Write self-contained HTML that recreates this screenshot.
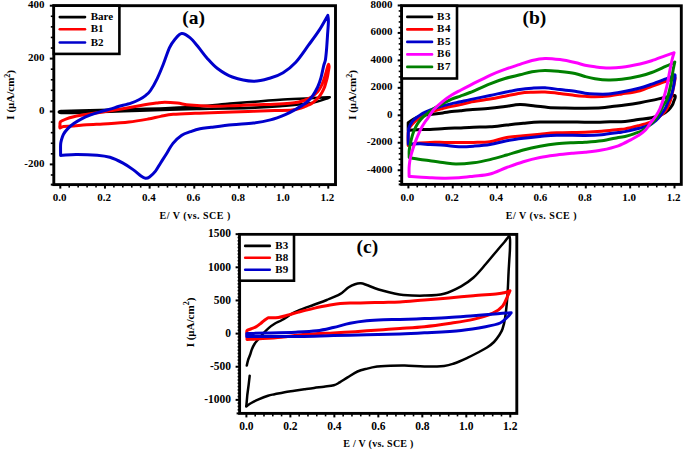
<!DOCTYPE html>
<html><head><meta charset="utf-8"><style>
html,body{margin:0;padding:0;background:#fff;width:685px;height:450px;overflow:hidden}
svg{display:block}
</style></head><body>
<svg width="685" height="450" viewBox="0 0 685 450">
<rect width="685" height="450" fill="#fff"/>
<line x1="50.80" y1="174.98" x2="53.80" y2="174.98" stroke="#000" stroke-width="1.6" stroke-linecap="butt"/>
<line x1="49.80" y1="164.40" x2="53.80" y2="164.40" stroke="#000" stroke-width="2" stroke-linecap="butt"/>
<line x1="50.80" y1="153.82" x2="53.80" y2="153.82" stroke="#000" stroke-width="1.6" stroke-linecap="butt"/>
<line x1="50.80" y1="143.24" x2="53.80" y2="143.24" stroke="#000" stroke-width="1.6" stroke-linecap="butt"/>
<line x1="50.80" y1="132.66" x2="53.80" y2="132.66" stroke="#000" stroke-width="1.6" stroke-linecap="butt"/>
<line x1="50.80" y1="122.08" x2="53.80" y2="122.08" stroke="#000" stroke-width="1.6" stroke-linecap="butt"/>
<line x1="49.80" y1="111.50" x2="53.80" y2="111.50" stroke="#000" stroke-width="2" stroke-linecap="butt"/>
<line x1="50.80" y1="100.92" x2="53.80" y2="100.92" stroke="#000" stroke-width="1.6" stroke-linecap="butt"/>
<line x1="50.80" y1="90.34" x2="53.80" y2="90.34" stroke="#000" stroke-width="1.6" stroke-linecap="butt"/>
<line x1="50.80" y1="79.76" x2="53.80" y2="79.76" stroke="#000" stroke-width="1.6" stroke-linecap="butt"/>
<line x1="50.80" y1="69.18" x2="53.80" y2="69.18" stroke="#000" stroke-width="1.6" stroke-linecap="butt"/>
<line x1="49.80" y1="58.60" x2="53.80" y2="58.60" stroke="#000" stroke-width="2" stroke-linecap="butt"/>
<line x1="50.80" y1="48.02" x2="53.80" y2="48.02" stroke="#000" stroke-width="1.6" stroke-linecap="butt"/>
<line x1="50.80" y1="37.44" x2="53.80" y2="37.44" stroke="#000" stroke-width="1.6" stroke-linecap="butt"/>
<line x1="50.80" y1="26.86" x2="53.80" y2="26.86" stroke="#000" stroke-width="1.6" stroke-linecap="butt"/>
<line x1="50.80" y1="16.28" x2="53.80" y2="16.28" stroke="#000" stroke-width="1.6" stroke-linecap="butt"/>
<line x1="49.80" y1="5.70" x2="53.80" y2="5.70" stroke="#000" stroke-width="2" stroke-linecap="butt"/>
<line x1="50.80" y1="184.60" x2="53.80" y2="184.60" stroke="#000" stroke-width="2" stroke-linecap="butt"/>
<text x="44.50" y="8.10" font-size="11" text-anchor="end" style="font-family:'Liberation Serif',serif;font-weight:bold" >400</text>
<text x="44.50" y="61.00" font-size="11" text-anchor="end" style="font-family:'Liberation Serif',serif;font-weight:bold" >200</text>
<text x="44.50" y="113.90" font-size="11" text-anchor="end" style="font-family:'Liberation Serif',serif;font-weight:bold" >0</text>
<text x="44.50" y="166.80" font-size="11" text-anchor="end" style="font-family:'Liberation Serif',serif;font-weight:bold" >-200</text>
<line x1="60.30" y1="184.60" x2="60.30" y2="188.60" stroke="#000" stroke-width="2" stroke-linecap="butt"/>
<line x1="69.23" y1="184.60" x2="69.23" y2="187.60" stroke="#000" stroke-width="1.6" stroke-linecap="butt"/>
<line x1="78.16" y1="184.60" x2="78.16" y2="187.60" stroke="#000" stroke-width="1.6" stroke-linecap="butt"/>
<line x1="87.10" y1="184.60" x2="87.10" y2="187.60" stroke="#000" stroke-width="1.6" stroke-linecap="butt"/>
<line x1="96.03" y1="184.60" x2="96.03" y2="187.60" stroke="#000" stroke-width="1.6" stroke-linecap="butt"/>
<line x1="104.96" y1="184.60" x2="104.96" y2="188.60" stroke="#000" stroke-width="2" stroke-linecap="butt"/>
<line x1="113.89" y1="184.60" x2="113.89" y2="187.60" stroke="#000" stroke-width="1.6" stroke-linecap="butt"/>
<line x1="122.82" y1="184.60" x2="122.82" y2="187.60" stroke="#000" stroke-width="1.6" stroke-linecap="butt"/>
<line x1="131.76" y1="184.60" x2="131.76" y2="187.60" stroke="#000" stroke-width="1.6" stroke-linecap="butt"/>
<line x1="140.69" y1="184.60" x2="140.69" y2="187.60" stroke="#000" stroke-width="1.6" stroke-linecap="butt"/>
<line x1="149.62" y1="184.60" x2="149.62" y2="188.60" stroke="#000" stroke-width="2" stroke-linecap="butt"/>
<line x1="158.55" y1="184.60" x2="158.55" y2="187.60" stroke="#000" stroke-width="1.6" stroke-linecap="butt"/>
<line x1="167.48" y1="184.60" x2="167.48" y2="187.60" stroke="#000" stroke-width="1.6" stroke-linecap="butt"/>
<line x1="176.42" y1="184.60" x2="176.42" y2="187.60" stroke="#000" stroke-width="1.6" stroke-linecap="butt"/>
<line x1="185.35" y1="184.60" x2="185.35" y2="187.60" stroke="#000" stroke-width="1.6" stroke-linecap="butt"/>
<line x1="194.28" y1="184.60" x2="194.28" y2="188.60" stroke="#000" stroke-width="2" stroke-linecap="butt"/>
<line x1="203.21" y1="184.60" x2="203.21" y2="187.60" stroke="#000" stroke-width="1.6" stroke-linecap="butt"/>
<line x1="212.14" y1="184.60" x2="212.14" y2="187.60" stroke="#000" stroke-width="1.6" stroke-linecap="butt"/>
<line x1="221.08" y1="184.60" x2="221.08" y2="187.60" stroke="#000" stroke-width="1.6" stroke-linecap="butt"/>
<line x1="230.01" y1="184.60" x2="230.01" y2="187.60" stroke="#000" stroke-width="1.6" stroke-linecap="butt"/>
<line x1="238.94" y1="184.60" x2="238.94" y2="188.60" stroke="#000" stroke-width="2" stroke-linecap="butt"/>
<line x1="247.87" y1="184.60" x2="247.87" y2="187.60" stroke="#000" stroke-width="1.6" stroke-linecap="butt"/>
<line x1="256.80" y1="184.60" x2="256.80" y2="187.60" stroke="#000" stroke-width="1.6" stroke-linecap="butt"/>
<line x1="265.74" y1="184.60" x2="265.74" y2="187.60" stroke="#000" stroke-width="1.6" stroke-linecap="butt"/>
<line x1="274.67" y1="184.60" x2="274.67" y2="187.60" stroke="#000" stroke-width="1.6" stroke-linecap="butt"/>
<line x1="283.60" y1="184.60" x2="283.60" y2="188.60" stroke="#000" stroke-width="2" stroke-linecap="butt"/>
<line x1="292.53" y1="184.60" x2="292.53" y2="187.60" stroke="#000" stroke-width="1.6" stroke-linecap="butt"/>
<line x1="301.46" y1="184.60" x2="301.46" y2="187.60" stroke="#000" stroke-width="1.6" stroke-linecap="butt"/>
<line x1="310.40" y1="184.60" x2="310.40" y2="187.60" stroke="#000" stroke-width="1.6" stroke-linecap="butt"/>
<line x1="319.33" y1="184.60" x2="319.33" y2="187.60" stroke="#000" stroke-width="1.6" stroke-linecap="butt"/>
<line x1="328.26" y1="184.60" x2="328.26" y2="188.60" stroke="#000" stroke-width="2" stroke-linecap="butt"/>
<text x="59.50" y="200.80" font-size="11" text-anchor="middle" style="font-family:'Liberation Serif',serif;font-weight:bold" >0.0</text>
<text x="104.16" y="200.80" font-size="11" text-anchor="middle" style="font-family:'Liberation Serif',serif;font-weight:bold" >0.2</text>
<text x="148.82" y="200.80" font-size="11" text-anchor="middle" style="font-family:'Liberation Serif',serif;font-weight:bold" >0.4</text>
<text x="193.48" y="200.80" font-size="11" text-anchor="middle" style="font-family:'Liberation Serif',serif;font-weight:bold" >0.6</text>
<text x="238.14" y="200.80" font-size="11" text-anchor="middle" style="font-family:'Liberation Serif',serif;font-weight:bold" >0.8</text>
<text x="282.80" y="200.80" font-size="11" text-anchor="middle" style="font-family:'Liberation Serif',serif;font-weight:bold" >1.0</text>
<text x="327.46" y="200.80" font-size="11" text-anchor="middle" style="font-family:'Liberation Serif',serif;font-weight:bold" >1.2</text>
<path d="M61.20,111.00 C64.33,110.60 71.87,110.80 80.00,110.60 C88.13,110.40 100.00,110.07 110.00,109.80 C120.00,109.53 130.00,109.30 140.00,109.00 C150.00,108.70 160.00,108.45 170.00,108.00 C180.00,107.55 190.00,107.03 200.00,106.30 C210.00,105.57 220.83,104.37 230.00,103.60 C239.17,102.83 246.67,102.33 255.00,101.70 C263.33,101.07 270.83,100.37 280.00,99.80 C289.17,99.23 302.07,98.72 310.00,98.30 C317.93,97.88 324.67,97.32 327.60,97.30 C330.53,97.28 330.53,97.20 327.60,98.20 C324.67,99.20 317.93,101.98 310.00,103.30 C302.07,104.62 289.17,105.38 280.00,106.10 C270.83,106.82 263.33,107.22 255.00,107.60 C246.67,107.98 239.17,108.18 230.00,108.40 C220.83,108.62 210.00,108.70 200.00,108.90 C190.00,109.10 180.00,109.28 170.00,109.60 C160.00,109.92 150.00,110.47 140.00,110.80 C130.00,111.13 120.00,111.30 110.00,111.60 C100.00,111.90 88.13,112.37 80.00,112.60 C71.87,112.83 64.33,113.27 61.20,113.00 C58.07,112.73 58.07,111.40 61.20,111.00Z" fill="none" stroke="#000" stroke-width="2.6" stroke-linejoin="round" stroke-linecap="round"/>
<path d="M60.60,121.70 C61.68,120.67 64.32,119.63 66.50,118.80 C68.68,117.97 71.30,117.28 73.70,116.70 C76.10,116.12 77.28,115.92 80.90,115.30 C84.52,114.68 90.22,113.78 95.40,113.00 C100.58,112.22 104.67,111.80 112.00,110.60 C119.33,109.40 132.02,107.05 139.40,105.80 C146.78,104.55 152.07,103.70 156.30,103.10 C160.53,102.50 161.28,102.20 164.80,102.20 C168.32,102.20 173.20,102.62 177.40,103.10 C181.60,103.58 184.37,104.58 190.00,105.10 C195.63,105.62 204.15,106.10 211.20,106.20 C218.25,106.30 225.25,105.93 232.30,105.70 C239.35,105.47 246.43,105.05 253.50,104.80 C260.57,104.55 268.62,104.45 274.70,104.20 C280.78,103.95 285.98,103.67 290.00,103.30 C294.02,102.93 296.47,102.47 298.80,102.00 C301.13,101.53 302.32,101.10 304.00,100.50 C305.68,99.90 307.40,99.15 308.90,98.40 C310.40,97.65 311.80,96.85 313.00,96.00 C314.20,95.15 315.10,94.33 316.10,93.30 C317.10,92.27 318.15,91.00 319.00,89.80 C319.85,88.60 320.50,87.48 321.20,86.10 C321.90,84.72 322.60,83.07 323.20,81.50 C323.80,79.93 324.25,78.45 324.80,76.70 C325.35,74.95 326.02,72.70 326.50,71.00 C326.98,69.30 327.35,67.60 327.70,66.50 C328.05,65.40 328.30,65.10 328.60,64.40 C328.77,65.27 329.15,65.73 329.10,67.00 C329.05,68.27 328.62,70.17 328.30,72.00 C327.98,73.83 327.67,76.00 327.20,78.00 C326.73,80.00 326.02,82.30 325.50,84.00 C324.98,85.70 324.72,86.73 324.10,88.20 C323.48,89.67 322.65,91.35 321.80,92.80 C320.95,94.25 320.05,95.63 319.00,96.90 C317.95,98.17 316.70,99.32 315.50,100.40 C314.30,101.48 313.27,102.50 311.80,103.40 C310.33,104.30 308.38,105.08 306.70,105.80 C305.02,106.52 304.15,106.98 301.70,107.70 C299.25,108.42 296.50,109.62 292.00,110.10 C287.50,110.58 281.12,110.40 274.70,110.60 C268.28,110.80 260.57,111.07 253.50,111.30 C246.43,111.53 239.35,111.77 232.30,112.00 C225.25,112.23 217.42,112.50 211.20,112.70 C204.98,112.90 201.33,112.93 195.00,113.20 C188.67,113.47 178.93,113.77 173.20,114.30 C167.47,114.83 164.82,115.60 160.60,116.40 C156.38,117.20 153.18,118.15 147.90,119.10 C142.62,120.05 135.58,121.32 128.90,122.10 C122.22,122.88 114.83,123.35 107.80,123.80 C100.77,124.25 92.38,124.42 86.70,124.80 C81.02,125.18 77.55,125.82 73.70,126.10 C69.85,126.38 65.88,126.18 63.60,126.50 C61.32,126.82 60.60,128.25 60.00,128.00 C59.40,127.75 59.90,126.05 60.00,125.00 C60.10,123.95 59.52,122.73 60.60,121.70Z" fill="none" stroke="#ff0000" stroke-width="3.0" stroke-linejoin="round" stroke-linecap="round"/>
<path d="M60.60,155.40 C60.60,151.93 60.48,147.48 60.60,145.00 C60.72,142.52 60.82,142.30 61.30,140.50 C61.78,138.70 62.42,136.18 63.50,134.20 C64.58,132.22 66.08,130.37 67.80,128.60 C69.52,126.83 71.50,125.22 73.80,123.60 C76.10,121.98 78.90,120.30 81.60,118.90 C84.30,117.50 86.93,116.37 90.00,115.20 C93.07,114.03 96.33,113.00 100.00,111.90 C103.67,110.80 108.95,109.50 112.00,108.60 C115.05,107.70 115.13,107.42 118.30,106.50 C121.47,105.58 127.48,104.27 131.00,103.10 C134.52,101.93 136.93,100.80 139.40,99.50 C141.87,98.20 143.95,96.80 145.80,95.30 C147.65,93.80 148.60,93.28 150.50,90.50 C152.40,87.72 155.07,82.97 157.20,78.60 C159.33,74.23 161.27,69.42 163.30,64.30 C165.33,59.18 167.52,52.00 169.40,47.90 C171.28,43.80 172.55,42.08 174.60,39.70 C176.65,37.32 179.15,33.93 181.70,33.60 C184.25,33.27 187.10,35.42 189.90,37.70 C192.70,39.98 195.67,43.93 198.50,47.30 C201.33,50.67 203.73,54.37 206.90,57.90 C210.07,61.43 213.27,65.32 217.50,68.50 C221.73,71.68 226.30,74.88 232.30,77.00 C238.30,79.12 247.15,81.03 253.50,81.20 C259.85,81.37 265.47,79.42 270.40,78.00 C275.33,76.58 278.87,75.33 283.10,72.70 C287.33,70.07 291.57,66.78 295.80,62.20 C300.03,57.62 304.62,50.50 308.50,45.20 C312.38,39.90 315.88,35.37 319.10,30.40 C322.32,25.43 324.90,20.40 327.80,15.40 C328.00,17.43 328.45,18.13 328.40,21.50 C328.35,24.87 327.82,30.85 327.50,35.60 C327.18,40.35 326.85,45.93 326.50,50.00 C326.15,54.07 325.87,57.38 325.40,60.00 C324.93,62.62 324.43,62.75 323.70,65.70 C322.97,68.65 322.00,74.15 321.00,77.70 C320.00,81.25 319.15,83.90 317.70,87.00 C316.25,90.10 314.30,93.63 312.30,96.30 C310.30,98.97 308.58,100.77 305.70,103.00 C302.82,105.23 298.40,107.77 295.00,109.70 C291.60,111.63 289.40,112.90 285.30,114.60 C281.20,116.30 275.70,118.48 270.40,119.90 C265.10,121.32 259.85,122.28 253.50,123.10 C247.15,123.92 239.35,124.10 232.30,124.80 C225.25,125.50 216.58,126.63 211.20,127.30 C205.82,127.97 203.45,128.07 200.00,128.80 C196.55,129.53 193.53,130.62 190.50,131.70 C187.47,132.78 184.72,133.35 181.80,135.30 C178.88,137.25 175.68,140.12 173.00,143.40 C170.32,146.68 167.77,151.73 165.70,155.00 C163.63,158.27 162.30,160.32 160.60,163.00 C158.90,165.68 157.35,168.77 155.50,171.10 C153.65,173.43 151.17,175.80 149.50,177.00 C147.83,178.20 146.92,178.47 145.50,178.30 C144.08,178.13 143.07,177.45 141.00,176.00 C138.93,174.55 136.17,171.78 133.10,169.60 C130.03,167.42 126.47,164.95 122.60,162.90 C118.73,160.85 114.13,158.58 109.90,157.30 C105.67,156.02 102.83,155.68 97.20,155.20 C91.57,154.72 82.20,154.37 76.10,154.40 C70.00,154.43 65.77,155.07 60.60,155.40Z" fill="none" stroke="#0000cc" stroke-width="3.0" stroke-linejoin="round" stroke-linecap="round"/>
<rect x="53.8" y="5.7" width="281.70" height="178.90" fill="none" stroke="#000" stroke-width="2.9"/>
<rect x="53.8" y="5.7" width="65.60" height="48.20" fill="#fff" stroke="#000" stroke-width="2.6"/>
<line x1="59.80" y1="17.10" x2="85.00" y2="17.10" stroke="#000" stroke-width="2.6" stroke-linecap="round"/>
<text x="90.70" y="20.10" font-size="11" text-anchor="start" style="font-family:'Liberation Serif',serif;font-weight:bold" >Bare</text>
<line x1="59.80" y1="29.30" x2="85.00" y2="29.30" stroke="#ff0000" stroke-width="2.6" stroke-linecap="round"/>
<text x="90.70" y="32.30" font-size="11" text-anchor="start" style="font-family:'Liberation Serif',serif;font-weight:bold" >B1</text>
<line x1="59.80" y1="42.50" x2="85.00" y2="42.50" stroke="#0000cc" stroke-width="2.6" stroke-linecap="round"/>
<text x="90.70" y="45.50" font-size="11" text-anchor="start" style="font-family:'Liberation Serif',serif;font-weight:bold" >B2</text>
<text x="193.70" y="24.30" font-size="19.5" text-anchor="middle" style="font-family:'Liberation Serif',serif;font-weight:bold" >(a)</text>
<text x="159.50" y="218.70" font-size="10" text-anchor="start" style="font-family:'Liberation Serif',serif;font-weight:bold" letter-spacing="0.5">E/ V (vs. SCE )</text>
<text transform="translate(14.1,94.8) rotate(-90)" font-size="11" text-anchor="middle" style="font-family:'Liberation Serif',serif;font-weight:bold">I (&#956;A/cm<tspan dy="-4.5" font-size="8">2</tspan><tspan dy="4.5">)</tspan></text>
<line x1="398.70" y1="181.20" x2="401.70" y2="181.20" stroke="#000" stroke-width="1.6" stroke-linecap="butt"/>
<line x1="398.70" y1="175.71" x2="401.70" y2="175.71" stroke="#000" stroke-width="1.6" stroke-linecap="butt"/>
<line x1="397.70" y1="170.22" x2="401.70" y2="170.22" stroke="#000" stroke-width="2" stroke-linecap="butt"/>
<line x1="398.70" y1="164.73" x2="401.70" y2="164.73" stroke="#000" stroke-width="1.6" stroke-linecap="butt"/>
<line x1="398.70" y1="159.24" x2="401.70" y2="159.24" stroke="#000" stroke-width="1.6" stroke-linecap="butt"/>
<line x1="398.70" y1="153.74" x2="401.70" y2="153.74" stroke="#000" stroke-width="1.6" stroke-linecap="butt"/>
<line x1="398.70" y1="148.25" x2="401.70" y2="148.25" stroke="#000" stroke-width="1.6" stroke-linecap="butt"/>
<line x1="397.70" y1="142.76" x2="401.70" y2="142.76" stroke="#000" stroke-width="2" stroke-linecap="butt"/>
<line x1="398.70" y1="137.27" x2="401.70" y2="137.27" stroke="#000" stroke-width="1.6" stroke-linecap="butt"/>
<line x1="398.70" y1="131.78" x2="401.70" y2="131.78" stroke="#000" stroke-width="1.6" stroke-linecap="butt"/>
<line x1="398.70" y1="126.28" x2="401.70" y2="126.28" stroke="#000" stroke-width="1.6" stroke-linecap="butt"/>
<line x1="398.70" y1="120.79" x2="401.70" y2="120.79" stroke="#000" stroke-width="1.6" stroke-linecap="butt"/>
<line x1="397.70" y1="115.30" x2="401.70" y2="115.30" stroke="#000" stroke-width="2" stroke-linecap="butt"/>
<line x1="398.70" y1="109.81" x2="401.70" y2="109.81" stroke="#000" stroke-width="1.6" stroke-linecap="butt"/>
<line x1="398.70" y1="104.32" x2="401.70" y2="104.32" stroke="#000" stroke-width="1.6" stroke-linecap="butt"/>
<line x1="398.70" y1="98.82" x2="401.70" y2="98.82" stroke="#000" stroke-width="1.6" stroke-linecap="butt"/>
<line x1="398.70" y1="93.33" x2="401.70" y2="93.33" stroke="#000" stroke-width="1.6" stroke-linecap="butt"/>
<line x1="397.70" y1="87.84" x2="401.70" y2="87.84" stroke="#000" stroke-width="2" stroke-linecap="butt"/>
<line x1="398.70" y1="82.35" x2="401.70" y2="82.35" stroke="#000" stroke-width="1.6" stroke-linecap="butt"/>
<line x1="398.70" y1="76.86" x2="401.70" y2="76.86" stroke="#000" stroke-width="1.6" stroke-linecap="butt"/>
<line x1="398.70" y1="71.36" x2="401.70" y2="71.36" stroke="#000" stroke-width="1.6" stroke-linecap="butt"/>
<line x1="398.70" y1="65.87" x2="401.70" y2="65.87" stroke="#000" stroke-width="1.6" stroke-linecap="butt"/>
<line x1="397.70" y1="60.38" x2="401.70" y2="60.38" stroke="#000" stroke-width="2" stroke-linecap="butt"/>
<line x1="398.70" y1="54.89" x2="401.70" y2="54.89" stroke="#000" stroke-width="1.6" stroke-linecap="butt"/>
<line x1="398.70" y1="49.40" x2="401.70" y2="49.40" stroke="#000" stroke-width="1.6" stroke-linecap="butt"/>
<line x1="398.70" y1="43.90" x2="401.70" y2="43.90" stroke="#000" stroke-width="1.6" stroke-linecap="butt"/>
<line x1="398.70" y1="38.41" x2="401.70" y2="38.41" stroke="#000" stroke-width="1.6" stroke-linecap="butt"/>
<line x1="397.70" y1="32.92" x2="401.70" y2="32.92" stroke="#000" stroke-width="2" stroke-linecap="butt"/>
<line x1="398.70" y1="27.43" x2="401.70" y2="27.43" stroke="#000" stroke-width="1.6" stroke-linecap="butt"/>
<line x1="398.70" y1="21.94" x2="401.70" y2="21.94" stroke="#000" stroke-width="1.6" stroke-linecap="butt"/>
<line x1="398.70" y1="16.44" x2="401.70" y2="16.44" stroke="#000" stroke-width="1.6" stroke-linecap="butt"/>
<line x1="398.70" y1="10.95" x2="401.70" y2="10.95" stroke="#000" stroke-width="1.6" stroke-linecap="butt"/>
<line x1="397.70" y1="5.46" x2="401.70" y2="5.46" stroke="#000" stroke-width="2" stroke-linecap="butt"/>
<line x1="398.70" y1="184.40" x2="401.70" y2="184.40" stroke="#000" stroke-width="2" stroke-linecap="butt"/>
<text x="392.50" y="7.86" font-size="11" text-anchor="end" style="font-family:'Liberation Serif',serif;font-weight:bold" >8000</text>
<text x="392.50" y="35.32" font-size="11" text-anchor="end" style="font-family:'Liberation Serif',serif;font-weight:bold" >6000</text>
<text x="392.50" y="62.78" font-size="11" text-anchor="end" style="font-family:'Liberation Serif',serif;font-weight:bold" >4000</text>
<text x="392.50" y="90.24" font-size="11" text-anchor="end" style="font-family:'Liberation Serif',serif;font-weight:bold" >2000</text>
<text x="392.50" y="117.70" font-size="11" text-anchor="end" style="font-family:'Liberation Serif',serif;font-weight:bold" >0</text>
<text x="392.50" y="145.16" font-size="11" text-anchor="end" style="font-family:'Liberation Serif',serif;font-weight:bold" >-2000</text>
<text x="392.50" y="172.62" font-size="11" text-anchor="end" style="font-family:'Liberation Serif',serif;font-weight:bold" >-4000</text>
<line x1="408.40" y1="184.40" x2="408.40" y2="188.40" stroke="#000" stroke-width="2" stroke-linecap="butt"/>
<line x1="417.27" y1="184.40" x2="417.27" y2="187.40" stroke="#000" stroke-width="1.6" stroke-linecap="butt"/>
<line x1="426.14" y1="184.40" x2="426.14" y2="187.40" stroke="#000" stroke-width="1.6" stroke-linecap="butt"/>
<line x1="435.01" y1="184.40" x2="435.01" y2="187.40" stroke="#000" stroke-width="1.6" stroke-linecap="butt"/>
<line x1="443.88" y1="184.40" x2="443.88" y2="187.40" stroke="#000" stroke-width="1.6" stroke-linecap="butt"/>
<line x1="452.75" y1="184.40" x2="452.75" y2="188.40" stroke="#000" stroke-width="2" stroke-linecap="butt"/>
<line x1="461.62" y1="184.40" x2="461.62" y2="187.40" stroke="#000" stroke-width="1.6" stroke-linecap="butt"/>
<line x1="470.49" y1="184.40" x2="470.49" y2="187.40" stroke="#000" stroke-width="1.6" stroke-linecap="butt"/>
<line x1="479.36" y1="184.40" x2="479.36" y2="187.40" stroke="#000" stroke-width="1.6" stroke-linecap="butt"/>
<line x1="488.23" y1="184.40" x2="488.23" y2="187.40" stroke="#000" stroke-width="1.6" stroke-linecap="butt"/>
<line x1="497.10" y1="184.40" x2="497.10" y2="188.40" stroke="#000" stroke-width="2" stroke-linecap="butt"/>
<line x1="505.97" y1="184.40" x2="505.97" y2="187.40" stroke="#000" stroke-width="1.6" stroke-linecap="butt"/>
<line x1="514.84" y1="184.40" x2="514.84" y2="187.40" stroke="#000" stroke-width="1.6" stroke-linecap="butt"/>
<line x1="523.71" y1="184.40" x2="523.71" y2="187.40" stroke="#000" stroke-width="1.6" stroke-linecap="butt"/>
<line x1="532.58" y1="184.40" x2="532.58" y2="187.40" stroke="#000" stroke-width="1.6" stroke-linecap="butt"/>
<line x1="541.45" y1="184.40" x2="541.45" y2="188.40" stroke="#000" stroke-width="2" stroke-linecap="butt"/>
<line x1="550.32" y1="184.40" x2="550.32" y2="187.40" stroke="#000" stroke-width="1.6" stroke-linecap="butt"/>
<line x1="559.19" y1="184.40" x2="559.19" y2="187.40" stroke="#000" stroke-width="1.6" stroke-linecap="butt"/>
<line x1="568.06" y1="184.40" x2="568.06" y2="187.40" stroke="#000" stroke-width="1.6" stroke-linecap="butt"/>
<line x1="576.93" y1="184.40" x2="576.93" y2="187.40" stroke="#000" stroke-width="1.6" stroke-linecap="butt"/>
<line x1="585.80" y1="184.40" x2="585.80" y2="188.40" stroke="#000" stroke-width="2" stroke-linecap="butt"/>
<line x1="594.67" y1="184.40" x2="594.67" y2="187.40" stroke="#000" stroke-width="1.6" stroke-linecap="butt"/>
<line x1="603.54" y1="184.40" x2="603.54" y2="187.40" stroke="#000" stroke-width="1.6" stroke-linecap="butt"/>
<line x1="612.41" y1="184.40" x2="612.41" y2="187.40" stroke="#000" stroke-width="1.6" stroke-linecap="butt"/>
<line x1="621.28" y1="184.40" x2="621.28" y2="187.40" stroke="#000" stroke-width="1.6" stroke-linecap="butt"/>
<line x1="630.15" y1="184.40" x2="630.15" y2="188.40" stroke="#000" stroke-width="2" stroke-linecap="butt"/>
<line x1="639.02" y1="184.40" x2="639.02" y2="187.40" stroke="#000" stroke-width="1.6" stroke-linecap="butt"/>
<line x1="647.89" y1="184.40" x2="647.89" y2="187.40" stroke="#000" stroke-width="1.6" stroke-linecap="butt"/>
<line x1="656.76" y1="184.40" x2="656.76" y2="187.40" stroke="#000" stroke-width="1.6" stroke-linecap="butt"/>
<line x1="665.63" y1="184.40" x2="665.63" y2="187.40" stroke="#000" stroke-width="1.6" stroke-linecap="butt"/>
<line x1="674.50" y1="184.40" x2="674.50" y2="188.40" stroke="#000" stroke-width="2" stroke-linecap="butt"/>
<text x="407.40" y="201.30" font-size="11" text-anchor="middle" style="font-family:'Liberation Serif',serif;font-weight:bold" >0.0</text>
<text x="451.75" y="201.30" font-size="11" text-anchor="middle" style="font-family:'Liberation Serif',serif;font-weight:bold" >0.2</text>
<text x="496.10" y="201.30" font-size="11" text-anchor="middle" style="font-family:'Liberation Serif',serif;font-weight:bold" >0.4</text>
<text x="540.45" y="201.30" font-size="11" text-anchor="middle" style="font-family:'Liberation Serif',serif;font-weight:bold" >0.6</text>
<text x="584.80" y="201.30" font-size="11" text-anchor="middle" style="font-family:'Liberation Serif',serif;font-weight:bold" >0.8</text>
<text x="629.15" y="201.30" font-size="11" text-anchor="middle" style="font-family:'Liberation Serif',serif;font-weight:bold" >1.0</text>
<text x="673.50" y="201.30" font-size="11" text-anchor="middle" style="font-family:'Liberation Serif',serif;font-weight:bold" >1.2</text>
<path d="M408.20,122.70 C410.03,121.47 411.89,120.00 413.70,119.00 C415.51,118.00 417.17,117.37 419.05,116.70 C420.93,116.03 422.82,115.40 425.00,115.00 C427.18,114.60 429.13,114.65 432.10,114.30 C435.07,113.95 439.53,113.35 442.80,112.90 C446.07,112.45 448.75,111.97 451.70,111.60 C454.65,111.23 457.45,111.00 460.50,110.70 C463.55,110.40 465.08,110.20 470.00,109.80 C474.92,109.40 484.17,108.85 490.00,108.30 C495.83,107.75 500.00,107.12 505.00,106.50 C510.00,105.88 515.00,104.70 520.00,104.60 C525.00,104.50 530.28,105.42 535.00,105.90 C539.72,106.38 543.30,107.15 548.30,107.50 C553.30,107.85 558.88,107.88 565.00,108.00 C571.12,108.12 578.88,108.23 585.00,108.20 C591.12,108.17 597.20,108.08 601.70,107.80 C606.20,107.52 608.12,106.97 612.00,106.50 C615.88,106.03 620.33,105.63 625.00,105.00 C629.67,104.37 635.55,103.47 640.00,102.70 C644.45,101.93 647.82,101.22 651.70,100.40 C655.58,99.58 660.08,98.50 663.30,97.80 C666.52,97.10 669.05,96.58 671.00,96.20 C672.95,95.82 674.33,95.15 675.00,95.50 C675.67,95.85 675.18,97.38 675.00,98.30 C674.82,99.22 674.37,99.83 673.90,101.00 C673.43,102.17 673.08,103.83 672.20,105.30 C671.32,106.77 670.23,108.32 668.60,109.80 C666.97,111.28 665.22,112.87 662.40,114.20 C659.58,115.53 655.72,116.90 651.70,117.80 C647.68,118.70 642.75,119.00 638.30,119.60 C633.85,120.20 629.72,121.03 625.00,121.40 C620.28,121.77 615.83,121.65 610.00,121.80 C604.17,121.95 597.50,122.28 590.00,122.30 C582.50,122.32 573.33,121.93 565.00,121.90 C556.67,121.87 546.95,121.87 540.00,122.10 C533.05,122.33 528.85,122.82 523.30,123.30 C517.75,123.78 512.25,124.42 506.70,125.00 C501.15,125.58 495.55,126.43 490.00,126.80 C484.45,127.17 478.58,127.02 473.40,127.20 C468.22,127.38 463.72,127.67 458.90,127.90 C454.08,128.13 449.32,128.32 444.50,128.60 C439.68,128.88 433.97,129.47 430.00,129.60 C426.03,129.73 424.29,129.30 420.66,129.40 C417.03,129.50 412.35,129.93 408.20,130.20 C408.20,127.70 408.20,125.20 408.20,122.70Z" fill="none" stroke="#000" stroke-width="3.0" stroke-linejoin="round" stroke-linecap="round"/>
<path d="M408.20,145.40 C408.17,142.60 408.07,139.53 408.10,137.00 C408.13,134.47 408.08,131.87 408.40,130.20 C408.72,128.53 409.28,128.07 410.00,127.00 C410.72,125.93 411.62,124.93 412.70,123.80 C413.78,122.67 415.10,121.32 416.50,120.20 C417.90,119.08 419.40,118.13 421.10,117.10 C422.80,116.07 424.57,115.00 426.70,114.00 C428.83,113.00 431.22,112.02 433.90,111.10 C436.58,110.18 439.83,109.32 442.80,108.50 C445.77,107.68 448.75,106.85 451.70,106.20 C454.65,105.55 457.45,105.27 460.50,104.60 C463.55,103.93 465.08,103.12 470.00,102.20 C474.92,101.28 484.17,100.10 490.00,99.10 C495.83,98.10 500.00,97.18 505.00,96.20 C510.00,95.22 515.50,93.85 520.00,93.20 C524.50,92.55 527.83,92.48 532.00,92.30 C536.17,92.12 540.33,91.90 545.00,92.10 C549.67,92.30 555.00,92.93 560.00,93.50 C565.00,94.07 570.83,95.03 575.00,95.50 C579.17,95.97 581.67,96.10 585.00,96.30 C588.33,96.50 591.12,96.75 595.00,96.70 C598.88,96.65 603.85,96.45 608.30,96.00 C612.75,95.55 616.42,94.88 621.70,94.00 C626.98,93.12 635.00,91.98 640.00,90.70 C645.00,89.42 647.53,87.80 651.70,86.30 C655.87,84.80 661.62,82.92 665.00,81.70 C668.38,80.48 670.33,79.68 672.00,79.00 C673.67,78.32 674.58,77.10 675.00,77.60 C675.42,78.10 674.80,80.08 674.50,82.00 C674.20,83.92 673.85,86.10 673.20,89.10 C672.55,92.10 671.67,96.70 670.60,100.00 C669.53,103.30 668.17,106.53 666.80,108.90 C665.43,111.27 664.18,112.57 662.40,114.20 C660.62,115.83 658.33,117.28 656.10,118.70 C653.87,120.12 651.97,121.52 649.00,122.70 C646.03,123.88 642.30,124.77 638.30,125.80 C634.30,126.83 628.33,128.28 625.00,128.90 C621.67,129.52 622.18,129.10 618.30,129.50 C614.42,129.90 607.25,130.83 601.70,131.30 C596.15,131.77 592.50,132.05 585.00,132.30 C577.50,132.55 564.20,132.48 556.70,132.80 C549.20,133.12 545.57,133.70 540.00,134.20 C534.43,134.70 528.85,135.25 523.30,135.80 C517.75,136.35 512.25,136.52 506.70,137.50 C501.15,138.48 495.55,140.88 490.00,141.70 C484.45,142.52 478.58,142.28 473.40,142.40 C468.22,142.52 463.72,142.40 458.90,142.40 C454.08,142.40 449.32,142.40 444.50,142.40 C439.68,142.40 434.56,142.25 430.00,142.40 C425.44,142.55 420.79,142.80 417.16,143.30 C413.53,143.80 411.19,144.70 408.20,145.40Z" fill="none" stroke="#ff0000" stroke-width="3.0" stroke-linejoin="round" stroke-linecap="round"/>
<path d="M408.30,144.10 C408.27,141.73 408.17,139.35 408.20,137.00 C408.23,134.65 408.28,131.78 408.50,130.00 C408.72,128.22 409.00,127.50 409.50,126.30 C410.00,125.10 410.83,123.80 411.50,122.80 C412.17,121.80 412.60,121.22 413.50,120.30 C414.40,119.38 415.65,118.27 416.90,117.30 C418.15,116.33 419.60,115.35 421.00,114.50 C422.40,113.65 423.15,113.18 425.30,112.20 C427.45,111.22 430.98,109.67 433.90,108.60 C436.82,107.53 439.83,106.63 442.80,105.80 C445.77,104.97 448.75,104.27 451.70,103.60 C454.65,102.93 457.45,102.47 460.50,101.80 C463.55,101.13 465.08,100.65 470.00,99.60 C474.92,98.55 484.17,96.73 490.00,95.50 C495.83,94.27 500.00,93.22 505.00,92.20 C510.00,91.18 515.50,90.07 520.00,89.40 C524.50,88.73 527.83,88.47 532.00,88.20 C536.17,87.93 540.33,87.57 545.00,87.80 C549.67,88.03 555.00,89.02 560.00,89.60 C565.00,90.18 570.83,90.70 575.00,91.30 C579.17,91.90 581.67,92.75 585.00,93.20 C588.33,93.65 591.12,93.87 595.00,94.00 C598.88,94.13 603.85,94.33 608.30,94.00 C612.75,93.67 616.42,93.00 621.70,92.00 C626.98,91.00 635.00,89.30 640.00,88.00 C645.00,86.70 647.53,85.67 651.70,84.20 C655.87,82.73 661.62,80.48 665.00,79.20 C668.38,77.92 670.33,77.22 672.00,76.50 C673.67,75.78 674.57,74.32 675.00,74.90 C675.43,75.48 674.97,77.48 674.60,80.00 C674.23,82.52 673.48,87.17 672.80,90.00 C672.12,92.83 671.25,95.17 670.50,97.00 C669.75,98.83 669.07,99.32 668.30,101.00 C667.53,102.68 667.03,104.90 665.90,107.10 C664.77,109.30 663.13,111.97 661.50,114.20 C659.87,116.43 658.18,118.63 656.10,120.50 C654.02,122.37 651.97,124.07 649.00,125.40 C646.03,126.73 642.30,127.47 638.30,128.50 C634.30,129.53 628.33,130.93 625.00,131.60 C621.67,132.27 622.18,131.98 618.30,132.50 C614.42,133.02 607.25,134.22 601.70,134.70 C596.15,135.18 592.50,135.32 585.00,135.40 C577.50,135.48 564.20,135.02 556.70,135.20 C549.20,135.38 545.57,135.98 540.00,136.50 C534.43,137.02 528.85,137.58 523.30,138.30 C517.75,139.02 512.25,139.75 506.70,140.80 C501.15,141.85 495.55,143.70 490.00,144.60 C484.45,145.50 478.58,145.85 473.40,146.20 C468.22,146.55 463.72,146.85 458.90,146.70 C454.08,146.55 449.32,145.65 444.50,145.30 C439.68,144.95 434.04,144.85 430.00,144.60 C425.96,144.35 423.90,143.88 420.28,143.80 C416.66,143.72 412.29,144.00 408.30,144.10Z" fill="none" stroke="#0000cc" stroke-width="3.0" stroke-linejoin="round" stroke-linecap="round"/>
<path d="M409.20,157.60 C409.20,155.27 409.02,152.88 409.20,150.60 C409.38,148.32 409.85,146.13 410.30,143.90 C410.75,141.67 411.35,139.23 411.90,137.20 C412.45,135.17 412.74,133.82 413.60,131.70 C414.46,129.58 415.88,126.53 417.07,124.50 C418.26,122.47 419.62,120.85 420.75,119.50 C421.88,118.15 423.16,117.05 423.87,116.40 C424.58,115.75 423.33,116.90 425.00,115.60 C426.67,114.30 430.93,110.60 433.90,108.60 C436.87,106.60 439.83,105.18 442.80,103.60 C445.77,102.02 448.75,100.35 451.70,99.10 C454.65,97.85 457.45,97.20 460.50,96.10 C463.55,95.00 465.08,94.55 470.00,92.50 C474.92,90.45 484.17,86.13 490.00,83.80 C495.83,81.47 500.00,80.00 505.00,78.50 C510.00,77.00 515.50,75.92 520.00,74.80 C524.50,73.68 527.83,72.53 532.00,71.80 C536.17,71.07 540.33,70.45 545.00,70.40 C549.67,70.35 555.00,70.98 560.00,71.50 C565.00,72.02 570.83,72.67 575.00,73.50 C579.17,74.33 581.67,75.63 585.00,76.50 C588.33,77.37 591.12,78.12 595.00,78.70 C598.88,79.28 603.85,79.90 608.30,80.00 C612.75,80.10 616.42,79.97 621.70,79.30 C626.98,78.63 635.00,77.13 640.00,76.00 C645.00,74.87 647.53,74.05 651.70,72.50 C655.87,70.95 661.62,68.20 665.00,66.70 C668.38,65.20 670.37,64.28 672.00,63.50 C673.63,62.72 673.87,62.50 674.80,62.00 C674.27,64.53 673.90,65.67 673.20,69.60 C672.50,73.53 671.63,80.70 670.60,85.60 C669.57,90.50 668.22,95.72 667.00,99.00 C665.78,102.28 664.52,103.05 663.30,105.30 C662.08,107.55 661.05,110.12 659.70,112.50 C658.35,114.88 656.83,117.53 655.20,119.60 C653.57,121.67 651.97,123.13 649.90,124.90 C647.83,126.67 645.47,128.72 642.80,130.20 C640.13,131.68 636.87,132.75 633.90,133.80 C630.93,134.85 627.60,135.88 625.00,136.50 C622.40,137.12 622.18,136.78 618.30,137.50 C614.42,138.22 607.25,140.00 601.70,140.80 C596.15,141.60 589.73,141.98 585.00,142.30 C580.27,142.62 578.02,142.45 573.30,142.70 C568.58,142.95 562.25,143.20 556.70,143.80 C551.15,144.40 545.57,145.27 540.00,146.30 C534.43,147.33 528.85,148.55 523.30,150.00 C517.75,151.45 512.25,153.40 506.70,155.00 C501.15,156.60 495.55,158.30 490.00,159.60 C484.45,160.90 479.07,162.07 473.40,162.80 C467.73,163.53 460.82,164.00 456.00,164.00 C451.18,164.00 448.83,163.33 444.50,162.80 C440.17,162.27 434.30,161.40 430.00,160.80 C425.70,160.20 422.17,159.73 418.70,159.20 C415.23,158.67 412.37,158.13 409.20,157.60Z" fill="none" stroke="#008000" stroke-width="3.0" stroke-linejoin="round" stroke-linecap="round"/>
<path d="M409.10,176.50 C409.10,173.67 409.00,170.47 409.10,168.00 C409.20,165.53 409.42,163.68 409.70,161.70 C409.98,159.72 410.23,158.33 410.80,156.10 C411.37,153.87 412.27,150.88 413.10,148.30 C413.93,145.72 414.81,143.18 415.80,140.60 C416.79,138.02 417.99,135.13 419.05,132.80 C420.11,130.47 421.13,128.48 422.17,126.60 C423.21,124.72 424.38,122.88 425.30,121.50 C426.22,120.12 426.27,120.28 427.70,118.30 C429.13,116.32 431.38,112.42 433.90,109.60 C436.42,106.78 439.83,103.82 442.80,101.40 C445.77,98.98 448.75,96.97 451.70,95.10 C454.65,93.23 457.45,91.83 460.50,90.20 C463.55,88.57 465.08,87.78 470.00,85.30 C474.92,82.82 484.17,77.97 490.00,75.30 C495.83,72.63 500.00,71.12 505.00,69.30 C510.00,67.48 515.50,65.87 520.00,64.40 C524.50,62.93 527.83,61.50 532.00,60.50 C536.17,59.50 540.33,58.55 545.00,58.40 C549.67,58.25 555.00,58.92 560.00,59.60 C565.00,60.28 570.83,61.57 575.00,62.50 C579.17,63.43 581.67,64.48 585.00,65.20 C588.33,65.92 591.12,66.33 595.00,66.80 C598.88,67.27 603.85,67.92 608.30,68.00 C612.75,68.08 616.42,67.97 621.70,67.30 C626.98,66.63 635.00,65.08 640.00,64.00 C645.00,62.92 647.53,62.17 651.70,60.80 C655.87,59.43 661.27,57.15 665.00,55.80 C668.73,54.45 671.07,53.73 674.10,52.70 C673.50,54.77 673.03,55.80 672.30,58.90 C671.57,62.00 670.58,66.85 669.70,71.30 C668.82,75.75 668.05,80.98 667.00,85.60 C665.95,90.22 664.60,95.10 663.40,99.00 C662.20,102.90 661.12,106.08 659.80,109.00 C658.48,111.92 657.00,114.25 655.50,116.50 C654.00,118.75 652.47,120.25 650.80,122.50 C649.13,124.75 647.58,127.82 645.50,130.00 C643.42,132.18 640.68,134.00 638.30,135.60 C635.92,137.20 634.53,137.90 631.20,139.60 C627.87,141.30 623.22,144.07 618.30,145.80 C613.38,147.53 607.25,148.93 601.70,150.00 C596.15,151.07 589.73,151.67 585.00,152.20 C580.27,152.73 578.02,152.73 573.30,153.20 C568.58,153.67 562.25,154.28 556.70,155.00 C551.15,155.72 545.57,156.38 540.00,157.50 C534.43,158.62 528.85,160.03 523.30,161.70 C517.75,163.37 512.25,165.45 506.70,167.50 C501.15,169.55 495.55,172.55 490.00,174.00 C484.45,175.45 478.58,175.57 473.40,176.20 C468.22,176.83 463.72,177.47 458.90,177.80 C454.08,178.13 449.32,178.22 444.50,178.20 C439.68,178.18 434.42,177.90 430.00,177.70 C425.58,177.50 421.17,177.18 418.00,177.00 C414.83,176.82 412.48,176.68 411.00,176.60 C409.52,176.52 409.73,176.53 409.10,176.50Z" fill="none" stroke="#ff00ff" stroke-width="3.0" stroke-linejoin="round" stroke-linecap="round"/>
<rect x="401.7" y="5.8" width="279.60" height="178.60" fill="none" stroke="#000" stroke-width="2.9"/>
<rect x="401.7" y="5.8" width="55.30" height="72.70" fill="#fff" stroke="#000" stroke-width="2.6"/>
<line x1="407.30" y1="16.90" x2="432.00" y2="16.90" stroke="#000" stroke-width="2.6" stroke-linecap="round"/>
<text x="437.10" y="19.60" font-size="11" text-anchor="start" style="font-family:'Liberation Serif',serif;font-weight:bold" letter-spacing="0.6">B3</text>
<line x1="407.30" y1="29.40" x2="432.00" y2="29.40" stroke="#ff0000" stroke-width="2.6" stroke-linecap="round"/>
<text x="437.10" y="32.10" font-size="11" text-anchor="start" style="font-family:'Liberation Serif',serif;font-weight:bold" letter-spacing="0.6">B4</text>
<line x1="407.30" y1="41.90" x2="432.00" y2="41.90" stroke="#0000cc" stroke-width="2.6" stroke-linecap="round"/>
<text x="437.10" y="44.60" font-size="11" text-anchor="start" style="font-family:'Liberation Serif',serif;font-weight:bold" letter-spacing="0.6">B5</text>
<line x1="407.30" y1="54.40" x2="432.00" y2="54.40" stroke="#ff00ff" stroke-width="2.6" stroke-linecap="round"/>
<text x="437.10" y="57.10" font-size="11" text-anchor="start" style="font-family:'Liberation Serif',serif;font-weight:bold" letter-spacing="0.6">B6</text>
<line x1="407.30" y1="66.90" x2="432.00" y2="66.90" stroke="#008000" stroke-width="2.6" stroke-linecap="round"/>
<text x="437.10" y="69.60" font-size="11" text-anchor="start" style="font-family:'Liberation Serif',serif;font-weight:bold" letter-spacing="0.6">B7</text>
<text x="534.40" y="24.30" font-size="19.5" text-anchor="middle" style="font-family:'Liberation Serif',serif;font-weight:bold" >(b)</text>
<text x="505.80" y="218.70" font-size="10" text-anchor="start" style="font-family:'Liberation Serif',serif;font-weight:bold" letter-spacing="0.5">E/ V (vs. SCE )</text>
<text transform="translate(356.4,95.0) rotate(-90)" font-size="11" text-anchor="middle" style="font-family:'Liberation Serif',serif;font-weight:bold">I (&#956;A/cm<tspan dy="-4.5" font-size="8">2</tspan><tspan dy="4.5">)</tspan></text>
<line x1="237.60" y1="409.82" x2="239.60" y2="409.82" stroke="#000" stroke-width="1.6" stroke-linecap="butt"/>
<line x1="237.60" y1="406.51" x2="239.60" y2="406.51" stroke="#000" stroke-width="1.6" stroke-linecap="butt"/>
<line x1="237.60" y1="403.19" x2="239.60" y2="403.19" stroke="#000" stroke-width="1.6" stroke-linecap="butt"/>
<line x1="235.60" y1="399.88" x2="239.60" y2="399.88" stroke="#000" stroke-width="2" stroke-linecap="butt"/>
<line x1="237.60" y1="396.57" x2="239.60" y2="396.57" stroke="#000" stroke-width="1.6" stroke-linecap="butt"/>
<line x1="237.60" y1="393.25" x2="239.60" y2="393.25" stroke="#000" stroke-width="1.6" stroke-linecap="butt"/>
<line x1="237.60" y1="389.94" x2="239.60" y2="389.94" stroke="#000" stroke-width="1.6" stroke-linecap="butt"/>
<line x1="237.60" y1="386.62" x2="239.60" y2="386.62" stroke="#000" stroke-width="1.6" stroke-linecap="butt"/>
<line x1="237.60" y1="383.31" x2="239.60" y2="383.31" stroke="#000" stroke-width="1.6" stroke-linecap="butt"/>
<line x1="237.60" y1="380.00" x2="239.60" y2="380.00" stroke="#000" stroke-width="1.6" stroke-linecap="butt"/>
<line x1="237.60" y1="376.68" x2="239.60" y2="376.68" stroke="#000" stroke-width="1.6" stroke-linecap="butt"/>
<line x1="237.60" y1="373.37" x2="239.60" y2="373.37" stroke="#000" stroke-width="1.6" stroke-linecap="butt"/>
<line x1="237.60" y1="370.05" x2="239.60" y2="370.05" stroke="#000" stroke-width="1.6" stroke-linecap="butt"/>
<line x1="235.60" y1="366.74" x2="239.60" y2="366.74" stroke="#000" stroke-width="2" stroke-linecap="butt"/>
<line x1="237.60" y1="363.43" x2="239.60" y2="363.43" stroke="#000" stroke-width="1.6" stroke-linecap="butt"/>
<line x1="237.60" y1="360.11" x2="239.60" y2="360.11" stroke="#000" stroke-width="1.6" stroke-linecap="butt"/>
<line x1="237.60" y1="356.80" x2="239.60" y2="356.80" stroke="#000" stroke-width="1.6" stroke-linecap="butt"/>
<line x1="237.60" y1="353.48" x2="239.60" y2="353.48" stroke="#000" stroke-width="1.6" stroke-linecap="butt"/>
<line x1="237.60" y1="350.17" x2="239.60" y2="350.17" stroke="#000" stroke-width="1.6" stroke-linecap="butt"/>
<line x1="237.60" y1="346.86" x2="239.60" y2="346.86" stroke="#000" stroke-width="1.6" stroke-linecap="butt"/>
<line x1="237.60" y1="343.54" x2="239.60" y2="343.54" stroke="#000" stroke-width="1.6" stroke-linecap="butt"/>
<line x1="237.60" y1="340.23" x2="239.60" y2="340.23" stroke="#000" stroke-width="1.6" stroke-linecap="butt"/>
<line x1="237.60" y1="336.91" x2="239.60" y2="336.91" stroke="#000" stroke-width="1.6" stroke-linecap="butt"/>
<line x1="235.60" y1="333.60" x2="239.60" y2="333.60" stroke="#000" stroke-width="2" stroke-linecap="butt"/>
<line x1="237.60" y1="330.29" x2="239.60" y2="330.29" stroke="#000" stroke-width="1.6" stroke-linecap="butt"/>
<line x1="237.60" y1="326.97" x2="239.60" y2="326.97" stroke="#000" stroke-width="1.6" stroke-linecap="butt"/>
<line x1="237.60" y1="323.66" x2="239.60" y2="323.66" stroke="#000" stroke-width="1.6" stroke-linecap="butt"/>
<line x1="237.60" y1="320.34" x2="239.60" y2="320.34" stroke="#000" stroke-width="1.6" stroke-linecap="butt"/>
<line x1="237.60" y1="317.03" x2="239.60" y2="317.03" stroke="#000" stroke-width="1.6" stroke-linecap="butt"/>
<line x1="237.60" y1="313.72" x2="239.60" y2="313.72" stroke="#000" stroke-width="1.6" stroke-linecap="butt"/>
<line x1="237.60" y1="310.40" x2="239.60" y2="310.40" stroke="#000" stroke-width="1.6" stroke-linecap="butt"/>
<line x1="237.60" y1="307.09" x2="239.60" y2="307.09" stroke="#000" stroke-width="1.6" stroke-linecap="butt"/>
<line x1="237.60" y1="303.77" x2="239.60" y2="303.77" stroke="#000" stroke-width="1.6" stroke-linecap="butt"/>
<line x1="235.60" y1="300.46" x2="239.60" y2="300.46" stroke="#000" stroke-width="2" stroke-linecap="butt"/>
<line x1="237.60" y1="297.15" x2="239.60" y2="297.15" stroke="#000" stroke-width="1.6" stroke-linecap="butt"/>
<line x1="237.60" y1="293.83" x2="239.60" y2="293.83" stroke="#000" stroke-width="1.6" stroke-linecap="butt"/>
<line x1="237.60" y1="290.52" x2="239.60" y2="290.52" stroke="#000" stroke-width="1.6" stroke-linecap="butt"/>
<line x1="237.60" y1="287.20" x2="239.60" y2="287.20" stroke="#000" stroke-width="1.6" stroke-linecap="butt"/>
<line x1="237.60" y1="283.89" x2="239.60" y2="283.89" stroke="#000" stroke-width="1.6" stroke-linecap="butt"/>
<line x1="237.60" y1="280.58" x2="239.60" y2="280.58" stroke="#000" stroke-width="1.6" stroke-linecap="butt"/>
<line x1="237.60" y1="277.26" x2="239.60" y2="277.26" stroke="#000" stroke-width="1.6" stroke-linecap="butt"/>
<line x1="237.60" y1="273.95" x2="239.60" y2="273.95" stroke="#000" stroke-width="1.6" stroke-linecap="butt"/>
<line x1="237.60" y1="270.63" x2="239.60" y2="270.63" stroke="#000" stroke-width="1.6" stroke-linecap="butt"/>
<line x1="235.60" y1="267.32" x2="239.60" y2="267.32" stroke="#000" stroke-width="2" stroke-linecap="butt"/>
<line x1="237.60" y1="264.01" x2="239.60" y2="264.01" stroke="#000" stroke-width="1.6" stroke-linecap="butt"/>
<line x1="237.60" y1="260.69" x2="239.60" y2="260.69" stroke="#000" stroke-width="1.6" stroke-linecap="butt"/>
<line x1="237.60" y1="257.38" x2="239.60" y2="257.38" stroke="#000" stroke-width="1.6" stroke-linecap="butt"/>
<line x1="237.60" y1="254.06" x2="239.60" y2="254.06" stroke="#000" stroke-width="1.6" stroke-linecap="butt"/>
<line x1="237.60" y1="250.75" x2="239.60" y2="250.75" stroke="#000" stroke-width="1.6" stroke-linecap="butt"/>
<line x1="237.60" y1="247.44" x2="239.60" y2="247.44" stroke="#000" stroke-width="1.6" stroke-linecap="butt"/>
<line x1="237.60" y1="244.12" x2="239.60" y2="244.12" stroke="#000" stroke-width="1.6" stroke-linecap="butt"/>
<line x1="237.60" y1="240.81" x2="239.60" y2="240.81" stroke="#000" stroke-width="1.6" stroke-linecap="butt"/>
<line x1="237.60" y1="237.49" x2="239.60" y2="237.49" stroke="#000" stroke-width="1.6" stroke-linecap="butt"/>
<line x1="235.60" y1="234.18" x2="239.60" y2="234.18" stroke="#000" stroke-width="2" stroke-linecap="butt"/>
<line x1="236.60" y1="413.40" x2="239.60" y2="413.40" stroke="#000" stroke-width="2" stroke-linecap="butt"/>
<text x="231.00" y="237.48" font-size="11.5" text-anchor="end" style="font-family:'Liberation Serif',serif;font-weight:bold" >1500</text>
<text x="231.00" y="270.62" font-size="11.5" text-anchor="end" style="font-family:'Liberation Serif',serif;font-weight:bold" >1000</text>
<text x="231.00" y="303.76" font-size="11.5" text-anchor="end" style="font-family:'Liberation Serif',serif;font-weight:bold" >500</text>
<text x="231.00" y="336.90" font-size="11.5" text-anchor="end" style="font-family:'Liberation Serif',serif;font-weight:bold" >0</text>
<text x="231.00" y="370.04" font-size="11.5" text-anchor="end" style="font-family:'Liberation Serif',serif;font-weight:bold" >-500</text>
<text x="231.00" y="403.18" font-size="11.5" text-anchor="end" style="font-family:'Liberation Serif',serif;font-weight:bold" >-1000</text>
<line x1="246.40" y1="413.40" x2="246.40" y2="417.40" stroke="#000" stroke-width="2" stroke-linecap="butt"/>
<line x1="255.20" y1="413.40" x2="255.20" y2="416.40" stroke="#000" stroke-width="1.6" stroke-linecap="butt"/>
<line x1="263.99" y1="413.40" x2="263.99" y2="416.40" stroke="#000" stroke-width="1.6" stroke-linecap="butt"/>
<line x1="272.79" y1="413.40" x2="272.79" y2="416.40" stroke="#000" stroke-width="1.6" stroke-linecap="butt"/>
<line x1="281.58" y1="413.40" x2="281.58" y2="416.40" stroke="#000" stroke-width="1.6" stroke-linecap="butt"/>
<line x1="290.38" y1="413.40" x2="290.38" y2="417.40" stroke="#000" stroke-width="2" stroke-linecap="butt"/>
<line x1="299.18" y1="413.40" x2="299.18" y2="416.40" stroke="#000" stroke-width="1.6" stroke-linecap="butt"/>
<line x1="307.97" y1="413.40" x2="307.97" y2="416.40" stroke="#000" stroke-width="1.6" stroke-linecap="butt"/>
<line x1="316.77" y1="413.40" x2="316.77" y2="416.40" stroke="#000" stroke-width="1.6" stroke-linecap="butt"/>
<line x1="325.56" y1="413.40" x2="325.56" y2="416.40" stroke="#000" stroke-width="1.6" stroke-linecap="butt"/>
<line x1="334.36" y1="413.40" x2="334.36" y2="417.40" stroke="#000" stroke-width="2" stroke-linecap="butt"/>
<line x1="343.16" y1="413.40" x2="343.16" y2="416.40" stroke="#000" stroke-width="1.6" stroke-linecap="butt"/>
<line x1="351.95" y1="413.40" x2="351.95" y2="416.40" stroke="#000" stroke-width="1.6" stroke-linecap="butt"/>
<line x1="360.75" y1="413.40" x2="360.75" y2="416.40" stroke="#000" stroke-width="1.6" stroke-linecap="butt"/>
<line x1="369.54" y1="413.40" x2="369.54" y2="416.40" stroke="#000" stroke-width="1.6" stroke-linecap="butt"/>
<line x1="378.34" y1="413.40" x2="378.34" y2="417.40" stroke="#000" stroke-width="2" stroke-linecap="butt"/>
<line x1="387.14" y1="413.40" x2="387.14" y2="416.40" stroke="#000" stroke-width="1.6" stroke-linecap="butt"/>
<line x1="395.93" y1="413.40" x2="395.93" y2="416.40" stroke="#000" stroke-width="1.6" stroke-linecap="butt"/>
<line x1="404.73" y1="413.40" x2="404.73" y2="416.40" stroke="#000" stroke-width="1.6" stroke-linecap="butt"/>
<line x1="413.52" y1="413.40" x2="413.52" y2="416.40" stroke="#000" stroke-width="1.6" stroke-linecap="butt"/>
<line x1="422.32" y1="413.40" x2="422.32" y2="417.40" stroke="#000" stroke-width="2" stroke-linecap="butt"/>
<line x1="431.12" y1="413.40" x2="431.12" y2="416.40" stroke="#000" stroke-width="1.6" stroke-linecap="butt"/>
<line x1="439.91" y1="413.40" x2="439.91" y2="416.40" stroke="#000" stroke-width="1.6" stroke-linecap="butt"/>
<line x1="448.71" y1="413.40" x2="448.71" y2="416.40" stroke="#000" stroke-width="1.6" stroke-linecap="butt"/>
<line x1="457.50" y1="413.40" x2="457.50" y2="416.40" stroke="#000" stroke-width="1.6" stroke-linecap="butt"/>
<line x1="466.30" y1="413.40" x2="466.30" y2="417.40" stroke="#000" stroke-width="2" stroke-linecap="butt"/>
<line x1="475.10" y1="413.40" x2="475.10" y2="416.40" stroke="#000" stroke-width="1.6" stroke-linecap="butt"/>
<line x1="483.89" y1="413.40" x2="483.89" y2="416.40" stroke="#000" stroke-width="1.6" stroke-linecap="butt"/>
<line x1="492.69" y1="413.40" x2="492.69" y2="416.40" stroke="#000" stroke-width="1.6" stroke-linecap="butt"/>
<line x1="501.48" y1="413.40" x2="501.48" y2="416.40" stroke="#000" stroke-width="1.6" stroke-linecap="butt"/>
<line x1="510.28" y1="413.40" x2="510.28" y2="417.40" stroke="#000" stroke-width="2" stroke-linecap="butt"/>
<text x="246.40" y="430.00" font-size="11.5" text-anchor="middle" style="font-family:'Liberation Serif',serif;font-weight:bold" >0.0</text>
<text x="290.38" y="430.00" font-size="11.5" text-anchor="middle" style="font-family:'Liberation Serif',serif;font-weight:bold" >0.2</text>
<text x="334.36" y="430.00" font-size="11.5" text-anchor="middle" style="font-family:'Liberation Serif',serif;font-weight:bold" >0.4</text>
<text x="378.34" y="430.00" font-size="11.5" text-anchor="middle" style="font-family:'Liberation Serif',serif;font-weight:bold" >0.6</text>
<text x="422.32" y="430.00" font-size="11.5" text-anchor="middle" style="font-family:'Liberation Serif',serif;font-weight:bold" >0.8</text>
<text x="466.30" y="430.00" font-size="11.5" text-anchor="middle" style="font-family:'Liberation Serif',serif;font-weight:bold" >1.0</text>
<text x="510.28" y="430.00" font-size="11.5" text-anchor="middle" style="font-family:'Liberation Serif',serif;font-weight:bold" >1.2</text>
<path d="M246.80,365.50 C247.00,364.63 247.47,362.05 248.00,360.30 C248.53,358.55 249.33,356.88 250.00,355.00 C250.67,353.12 251.25,350.83 252.00,349.00 C252.75,347.17 253.58,345.48 254.50,344.00 C255.42,342.52 256.12,341.77 257.50,340.10 C258.88,338.43 260.90,336.03 262.80,334.00 C264.70,331.97 266.87,329.65 268.90,327.90 C270.93,326.15 272.82,324.82 275.00,323.50 C277.18,322.18 279.02,321.72 282.00,320.00 C284.98,318.28 289.90,314.87 292.90,313.20 C295.90,311.53 296.60,311.37 300.00,310.00 C303.40,308.63 308.85,306.67 313.30,305.00 C317.75,303.33 322.25,301.80 326.70,300.00 C331.15,298.20 336.40,296.28 340.00,294.20 C343.60,292.12 345.80,289.17 348.30,287.50 C350.80,285.83 352.92,284.90 355.00,284.20 C357.08,283.50 358.85,283.17 360.80,283.30 C362.75,283.43 364.33,284.17 366.70,285.00 C369.07,285.83 372.23,287.33 375.00,288.30 C377.77,289.27 380.25,289.97 383.30,290.80 C386.35,291.63 389.97,292.60 393.30,293.30 C396.63,294.00 398.12,294.62 403.30,295.00 C408.48,295.38 417.62,295.82 424.40,295.60 C431.18,295.38 437.88,295.25 444.00,293.70 C450.12,292.15 456.22,288.95 461.10,286.30 C465.98,283.65 469.22,281.47 473.30,277.80 C477.38,274.13 481.52,268.98 485.60,264.30 C489.68,259.62 494.65,253.42 497.80,249.70 C500.95,245.98 502.55,244.20 504.50,242.00 C506.45,239.80 508.58,235.63 509.50,236.50 C510.42,237.37 510.03,243.28 510.00,247.20 C509.97,251.12 509.53,255.92 509.30,260.00 C509.07,264.08 508.92,265.68 508.60,271.70 C508.28,277.72 507.98,288.38 507.40,296.10 C506.82,303.82 505.92,312.52 505.10,318.00 C504.28,323.48 503.52,326.08 502.50,329.00 C501.48,331.92 500.42,333.33 499.00,335.50 C497.58,337.67 496.00,340.00 494.00,342.00 C492.00,344.00 489.67,345.75 487.00,347.50 C484.33,349.25 481.20,350.82 478.00,352.50 C474.80,354.18 471.80,355.77 467.80,357.60 C463.80,359.43 457.95,362.12 454.00,363.50 C450.05,364.88 449.03,365.40 444.10,365.90 C439.17,366.40 430.97,366.57 424.40,366.50 C417.83,366.43 411.27,365.60 404.70,365.50 C398.13,365.40 389.58,365.72 385.00,365.90 C380.42,366.08 380.15,366.15 377.20,366.60 C374.25,367.05 370.58,367.78 367.30,368.60 C364.02,369.42 360.78,370.03 357.50,371.50 C354.22,372.97 350.57,375.58 347.60,377.40 C344.63,379.22 342.00,381.08 339.70,382.40 C337.40,383.72 336.42,384.58 333.80,385.30 C331.18,386.02 327.28,386.27 324.00,386.70 C320.72,387.13 317.38,387.47 314.10,387.90 C310.82,388.33 307.58,388.82 304.30,389.30 C301.02,389.78 297.68,390.32 294.40,390.80 C291.12,391.28 287.88,391.63 284.60,392.20 C281.32,392.77 277.47,393.62 274.70,394.20 C271.93,394.78 270.78,394.78 268.00,395.70 C265.22,396.62 260.78,398.48 258.00,399.70 C255.22,400.92 253.25,401.90 251.30,403.00 C249.35,404.10 247.13,405.75 246.30,406.30" fill="none" stroke="#000" stroke-width="2.5" stroke-linejoin="round" stroke-linecap="round"/>
<path d="M246.30,406.30 L247.30,395.00 L248.70,384.30 L249.70,375.70" fill="none" stroke="#000" stroke-width="2.5" stroke-linejoin="round" stroke-linecap="round"/>
<path d="M247.00,335.00 C247.00,333.52 246.37,331.60 247.00,330.60 C247.63,329.60 249.32,329.62 250.80,329.00 C252.28,328.38 254.20,327.87 255.90,326.90 C257.60,325.93 259.57,324.32 261.00,323.20 C262.43,322.08 263.28,321.10 264.50,320.20 C265.72,319.30 267.03,318.60 268.30,317.80 C271.67,317.67 275.03,317.88 278.40,317.40 C281.77,316.92 285.13,315.78 288.50,314.90 C291.87,314.02 293.90,313.32 298.60,312.10 C303.30,310.88 310.92,308.88 316.70,307.60 C322.48,306.32 327.75,305.15 333.30,304.40 C338.85,303.65 344.43,303.37 350.00,303.10 C355.57,302.83 361.15,302.92 366.70,302.80 C372.25,302.68 377.75,302.55 383.30,302.40 C388.85,302.25 393.15,302.32 400.00,301.90 C406.85,301.48 416.25,300.55 424.40,299.90 C432.55,299.25 440.75,298.70 448.90,298.00 C457.05,297.30 465.15,296.40 473.30,295.70 C481.45,295.00 492.52,294.33 497.80,293.80 C503.08,293.27 502.97,293.02 505.00,292.50 C507.03,291.98 508.33,291.30 510.00,290.70 C509.20,292.50 508.82,293.57 507.60,296.10 C506.38,298.63 505.15,303.05 502.70,305.90 C500.25,308.75 497.80,310.95 492.90,313.20 C488.00,315.45 480.63,317.68 473.30,319.40 C465.97,321.12 457.05,322.28 448.90,323.50 C440.75,324.72 432.55,325.87 424.40,326.70 C416.25,327.53 406.85,328.00 400.00,328.50 C393.15,329.00 388.85,329.32 383.30,329.70 C377.75,330.08 372.25,330.42 366.70,330.80 C361.15,331.18 355.57,331.63 350.00,332.00 C344.43,332.37 338.63,332.73 333.30,333.00 C327.97,333.27 323.05,333.33 318.00,333.60 C312.95,333.87 309.12,334.00 303.00,334.60 C296.88,335.20 288.52,336.50 281.30,337.20 C274.08,337.90 265.42,338.42 259.70,338.80 C253.98,339.18 251.23,339.27 247.00,339.50 C247.00,338.00 247.00,336.48 247.00,335.00Z" fill="none" stroke="#ff0000" stroke-width="3.0" stroke-linejoin="round" stroke-linecap="round"/>
<path d="M246.80,333.50 C253.50,333.37 258.73,333.32 266.90,333.10 C275.07,332.88 287.50,332.58 295.80,332.20 C304.10,331.82 310.45,331.58 316.70,330.80 C322.95,330.02 327.75,328.75 333.30,327.50 C338.85,326.25 344.43,324.42 350.00,323.30 C355.57,322.18 361.15,321.40 366.70,320.80 C372.25,320.20 377.75,319.93 383.30,319.70 C388.85,319.47 393.15,319.58 400.00,319.40 C406.85,319.22 416.25,318.90 424.40,318.60 C432.55,318.30 440.75,318.08 448.90,317.60 C457.05,317.12 465.15,316.35 473.30,315.70 C481.45,315.05 491.48,314.18 497.80,313.70 C504.12,313.22 506.73,313.10 511.20,312.80 C510.00,314.17 509.43,315.20 507.60,316.90 C505.77,318.60 503.87,321.37 500.20,323.00 C496.53,324.63 492.12,325.47 485.60,326.70 C479.08,327.93 471.30,329.38 461.10,330.40 C450.90,331.42 434.58,332.20 424.40,332.80 C414.22,333.40 409.62,333.67 400.00,334.00 C390.38,334.33 377.82,334.53 366.70,334.80 C355.58,335.07 344.42,335.32 333.30,335.60 C322.18,335.88 311.07,336.33 300.00,336.50 C288.93,336.67 275.77,336.58 266.90,336.60 C258.03,336.62 253.50,336.60 246.80,336.60 C246.80,335.57 246.80,334.53 246.80,333.50Z" fill="none" stroke="#0000cc" stroke-width="3.0" stroke-linejoin="round" stroke-linecap="round"/>
<rect x="239.6" y="234.4" width="277.20" height="179.00" fill="none" stroke="#000" stroke-width="2.9"/>
<rect x="239.6" y="234.4" width="54.40" height="46.30" fill="#fff" stroke="#000" stroke-width="2.6"/>
<line x1="245.20" y1="245.90" x2="269.80" y2="245.90" stroke="#000" stroke-width="2.6" stroke-linecap="round"/>
<text x="275.30" y="249.10" font-size="11" text-anchor="start" style="font-family:'Liberation Serif',serif;font-weight:bold" >B3</text>
<line x1="245.20" y1="257.80" x2="269.80" y2="257.80" stroke="#ff0000" stroke-width="2.6" stroke-linecap="round"/>
<text x="275.30" y="261.00" font-size="11" text-anchor="start" style="font-family:'Liberation Serif',serif;font-weight:bold" >B8</text>
<line x1="245.20" y1="269.70" x2="269.80" y2="269.70" stroke="#0000cc" stroke-width="2.6" stroke-linecap="round"/>
<text x="275.30" y="272.90" font-size="11" text-anchor="start" style="font-family:'Liberation Serif',serif;font-weight:bold" >B9</text>
<text x="367.40" y="253.20" font-size="19.5" text-anchor="middle" style="font-family:'Liberation Serif',serif;font-weight:bold" >(c)</text>
<text x="343.30" y="446.80" font-size="10" text-anchor="start" style="font-family:'Liberation Serif',serif;font-weight:bold" letter-spacing="0.25">E / V (vs. SCE )</text>
<text transform="translate(193.7,322.5) rotate(-90)" font-size="11" text-anchor="middle" style="font-family:'Liberation Serif',serif;font-weight:bold">I (&#956;A/cm<tspan dy="-4.5" font-size="8">2</tspan><tspan dy="4.5">)</tspan></text>
</svg></body></html>
